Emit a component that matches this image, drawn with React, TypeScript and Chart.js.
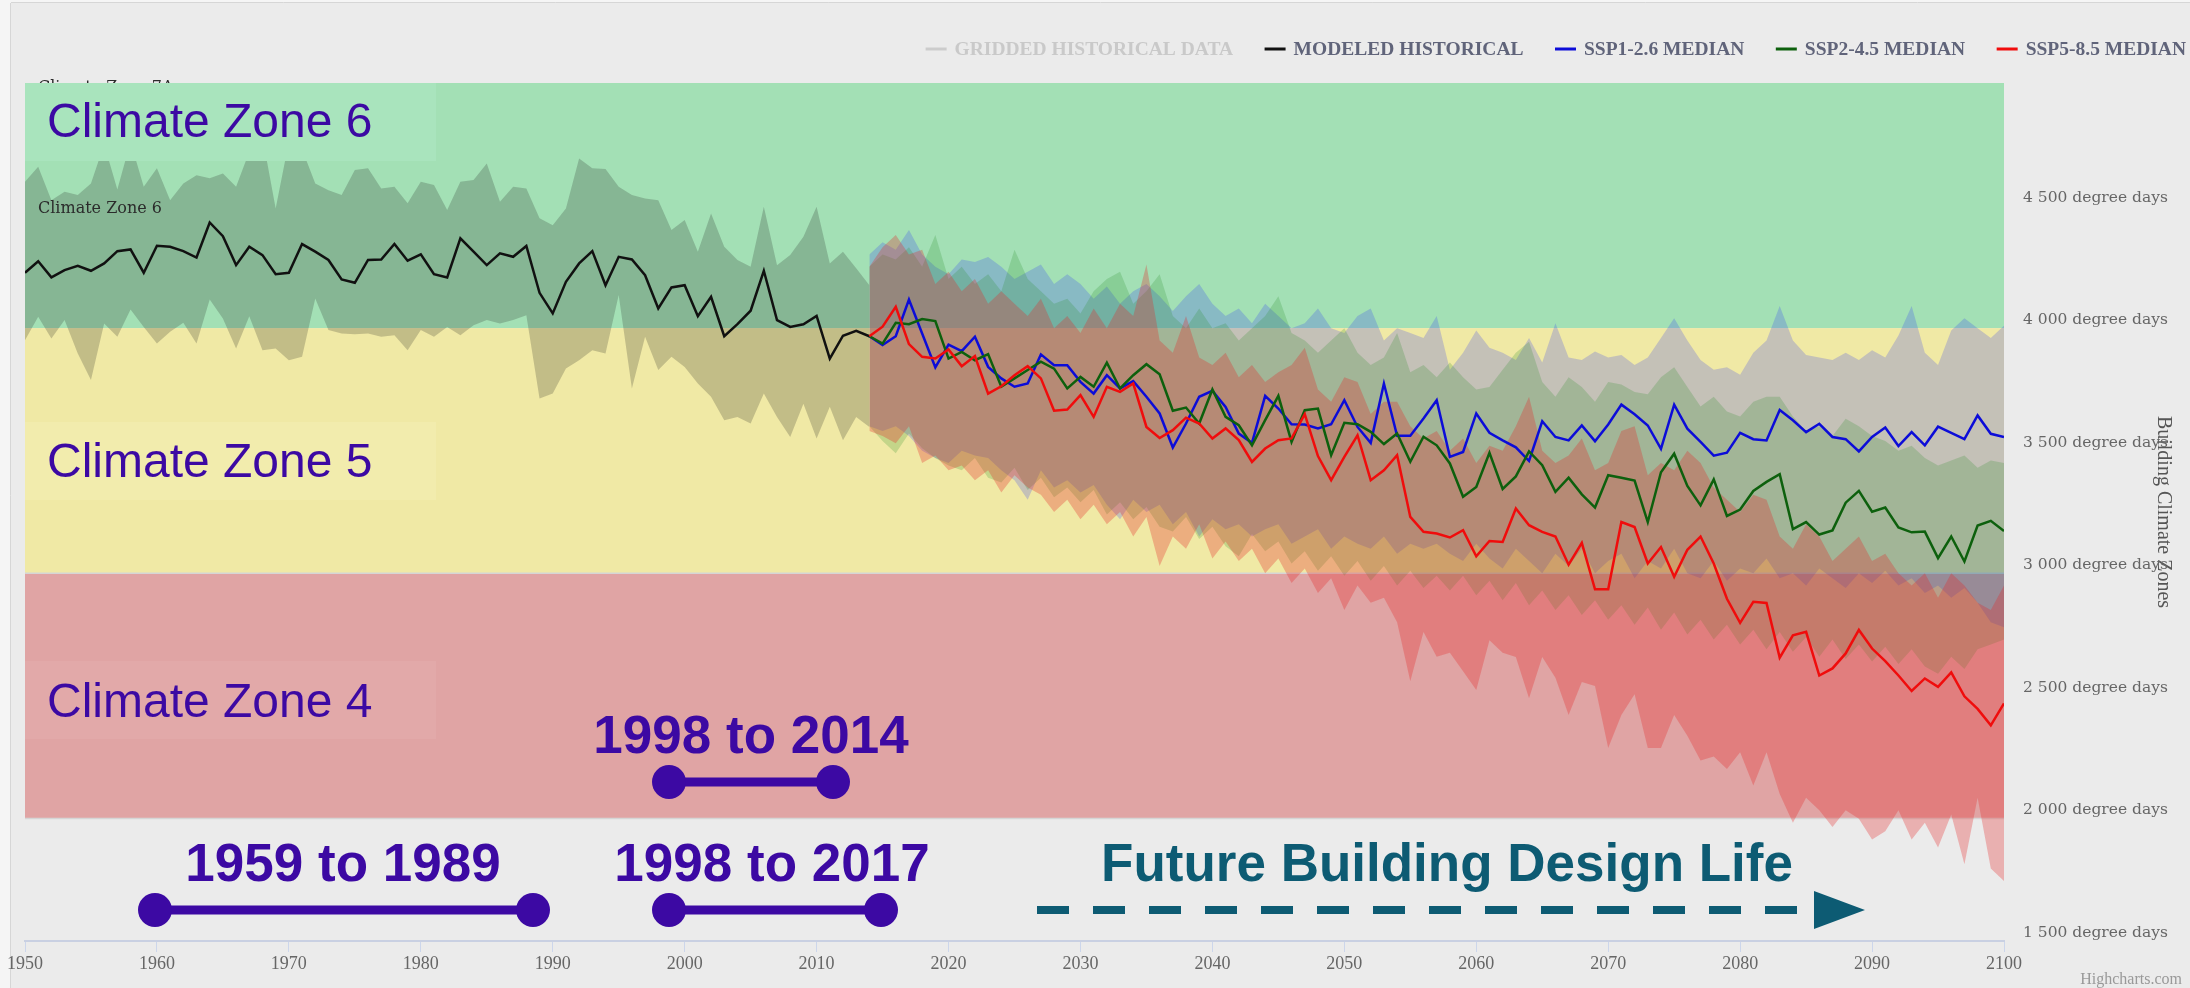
import React, { useEffect, useRef } from 'react';
import { Chart, registerables } from 'chart.js';

Chart.register(...registerables);

const WIDTH = 2190;
const HEIGHT = 988;

// ---------- data ----------
const histStart = 1950;
const futureStart = 2014;

const histMedian = [
  4226, 4273, 4207, 4237, 4254, 4234, 4264, 4314, 4321, 4226,
  4336, 4332, 4314, 4288, 4431, 4375, 4257, 4332, 4298, 4220,
  4226, 4343, 4312, 4278, 4199, 4185, 4278, 4280, 4343, 4275,
  4301, 4220, 4207, 4366, 4312, 4257, 4305, 4291, 4335, 4144,
  4060, 4189, 4264, 4314, 4175, 4291, 4280, 4216, 4080, 4166,
  4175, 4049, 4128, 3967, 4016, 4071, 4234, 4033, 4005, 4016,
  4050, 3876, 3969, 3989, 3967,
];
const histUpper = [
  4597, 4658, 4522, 4556, 4543, 4590, 4750, 4566, 4760, 4577,
  4652, 4522, 4590, 4624, 4611, 4631, 4577, 4720, 4780, 4488,
  4760, 4730, 4590, 4563, 4543, 4645, 4652, 4570, 4577, 4509,
  4597, 4584, 4482, 4597, 4604, 4672, 4516, 4577, 4570, 4448,
  4420, 4488, 4692, 4652, 4649, 4577, 4543, 4529, 4522, 4400,
  4441, 4312, 4468, 4332, 4278, 4250, 4495, 4257, 4298, 4373,
  4495, 4264, 4312, 4244, 4175,
];
const histLower = [
  3951, 4046, 3958, 4033, 3897, 3788, 4019, 3965, 4076, 4005,
  3937, 3985, 4022, 3937, 4117, 4039, 3917, 4049, 3910, 3917,
  3869, 3883, 4121, 3992, 3978, 3975, 3978, 3965, 3971, 3910,
  3992, 3965, 4005, 3971, 4012, 4033, 4019, 4033, 4053, 3713,
  3733, 3835, 3869, 3910, 3897, 4135, 3754, 3965, 3829, 3883,
  3842, 3774, 3720, 3624, 3638, 3611, 3733, 3638, 3556, 3692,
  3550, 3679, 3543, 3638, 3597,
];

const ssp1Median = [
  3967, 3931, 3967, 4117, 3978, 3840, 3933, 3906, 3965, 3842,
  3795, 3761, 3774, 3893, 3849, 3849, 3781, 3733, 3808, 3754,
  3784, 3720, 3652, 3513, 3611, 3720, 3744, 3679, 3570, 3532,
  3724, 3672, 3608, 3607, 3591, 3608, 3706, 3597, 3532, 3774,
  3561, 3561, 3631, 3706, 3475, 3495, 3652, 3573, 3542, 3514,
  3458, 3620, 3556, 3542, 3603, 3539, 3607, 3688, 3649, 3603,
  3508, 3688, 3590, 3536, 3480, 3492, 3573, 3547, 3542, 3666,
  3624, 3576, 3610, 3556, 3547, 3497, 3556, 3595, 3519, 3576,
  3522, 3598, 3573, 3547, 3644, 3569, 3556,
];
const ssp2Median = [
  3967, 3937, 4022, 4016, 4037, 4029, 3876, 3903, 3869, 3894,
  3761, 3795, 3829, 3863, 3835, 3754, 3801, 3761, 3859, 3754,
  3808, 3853, 3812, 3663, 3676, 3611, 3750, 3638, 3604, 3522,
  3625, 3724, 3536, 3665, 3672, 3482, 3614, 3608, 3577, 3527,
  3570, 3455, 3557, 3522, 3448, 3312, 3352, 3491, 3344, 3395,
  3497, 3441, 3332, 3390, 3322, 3268, 3400, 3390, 3378, 3209,
  3412, 3488, 3356, 3277, 3383, 3234, 3260, 3336, 3373, 3404,
  3180, 3209, 3158, 3175, 3288, 3336, 3251, 3268, 3187, 3167,
  3170, 3062, 3150, 3048, 3195, 3214, 3172,
];
const ssp5Median = [
  3967, 4006, 4087, 3935, 3883, 3876, 3913, 3845, 3886, 3733,
  3763, 3808, 3845, 3795, 3663, 3668, 3727, 3638, 3761, 3740,
  3774, 3597, 3552, 3584, 3635, 3611, 3550, 3591, 3543, 3454,
  3509, 3543, 3550, 3649, 3478, 3380, 3475, 3563, 3380, 3420,
  3482, 3230, 3169, 3162, 3146, 3176, 3069, 3132, 3128, 3264,
  3196, 3169, 3150, 3035, 3124, 2935, 2935, 3209, 3189, 3040,
  3107, 2986, 3096, 3150, 3040, 2896, 2798, 2884, 2879, 2656,
  2747, 2761, 2583, 2612, 2673, 2769, 2693, 2642, 2583, 2520,
  2571, 2537, 2596, 2498, 2447, 2380, 2469,
];

const ssp1Upper = [
  4300, 4350, 4320, 4400, 4300, 4250, 4220, 4280, 4270, 4290,
  4250, 4200, 4230, 4260, 4180, 4220, 4180, 4120, 4170, 4100,
  4150, 4180, 4130, 4070, 4130, 4180, 4100, 4050, 4080, 4020,
  4100, 4050, 4000, 4020, 4080, 4000, 3980, 4050, 4080, 3950,
  4000, 3980, 3960, 4050, 3830, 3900, 3990, 3920, 3900, 3870,
  3960, 3860, 4020, 3880, 3870, 3905, 3880, 3890, 3850, 3880,
  3960, 4040, 3950, 3870, 3830, 3840, 3810, 3900, 3950, 4090,
  3950, 3890, 3880, 3870, 3900, 3870, 3910, 3880, 3970, 4090,
  3900, 3850, 3990, 4040, 4000, 3960, 4010,
];
const ssp1Lower = [
  3600, 3580, 3600, 3560, 3500, 3470, 3450, 3500, 3480, 3470,
  3420, 3380, 3300, 3420, 3350, 3380, 3330, 3360, 3280, 3220,
  3300, 3250, 3280, 3200, 3250, 3150, 3220, 3180, 3200, 3150,
  3180, 3200, 3120, 3150, 3180, 3100, 3150, 3120, 3100, 3150,
  3080, 3120, 3100, 3120, 3080, 3050, 3120, 3060, 3020, 3100,
  3050, 3000, 3080, 3030, 3100, 3000, 3050, 3080, 2980, 3050,
  3020, 3100, 3000, 2980, 3050, 2970, 3020, 3000, 3060, 2980,
  3000, 2950, 3020, 2980, 2940, 3000, 2960, 3010, 2950, 2980,
  2920, 2950, 2900, 2940, 2880, 2800, 2780,
];
const ssp2Upper = [
  4250, 4300, 4280, 4330, 4250, 4380, 4200, 4250, 4180, 4220,
  4150, 4320, 4200, 4150, 4100, 4120, 4060, 4150, 4200, 4230,
  4100, 4150, 4220, 4050, 4000, 4080, 4000, 4020, 3950, 4000,
  4050, 4130, 3980, 3950, 3900, 3950, 4000, 3900, 3850, 3880,
  3980, 3820, 3850, 3800, 3860, 3800, 3750, 3760, 3830, 3900,
  3945, 3780, 3720, 3800, 3760, 3700, 3780, 3770, 3740, 3730,
  3800, 3840, 3760, 3680, 3720, 3660, 3640, 3700, 3720, 3720,
  3640, 3580, 3600, 3560, 3630, 3600, 3560, 3540, 3500, 3520,
  3470, 3440, 3460, 3480, 3430, 3460, 3450,
];
const ssp2Lower = [
  3600, 3540, 3490, 3570, 3510, 3470, 3440, 3420, 3470, 3390,
  3370, 3430, 3340, 3390, 3310, 3350, 3290, 3340, 3240, 3290,
  3220, 3270, 3190, 3170, 3230, 3140, 3190, 3110, 3070, 3160,
  3090, 3130, 3040, 3090, 3010, 3070, 2990, 3050, 2970, 3030,
  2950, 3010, 2940, 2990, 2930, 2990, 2910, 2970, 2890, 2960,
  2870, 2930, 2850, 2910, 2830, 2890, 2810, 2870, 2790, 2860,
  2770, 2840, 2750, 2810, 2730, 2790, 2710, 2770, 2690, 2760,
  2680, 2740, 2660, 2730, 2650, 2710, 2640, 2700, 2630, 2690,
  2620, 2590, 2660, 2610, 2690, 2710, 2730,
];
const ssp5Upper = [
  4250, 4330, 4380, 4300, 4320, 4180, 4230, 4150, 4200, 4100,
  4150, 4100, 4050, 4120, 4000, 4050, 3980, 4080, 4000, 4100,
  4050, 4260, 3950, 3900, 4050, 3880, 3850, 3900, 3800, 3850,
  3780, 3820, 3850, 3920, 3750, 3700, 3800, 3780, 3650, 3700,
  3700, 3600, 3550, 3580, 3500, 3550, 3450, 3520, 3500, 3600,
  3720, 3500, 3450, 3480, 3550, 3420, 3450, 3580, 3600, 3400,
  3450, 3420, 3500, 3450, 3350, 3300, 3250, 3320, 3300, 3150,
  3100, 3200, 3150, 3050, 3100, 3150, 3050, 3080, 3000, 2950,
  3000, 2900, 3000, 2950, 2880, 2850, 2950,
];
const ssp5Lower = [
  3580, 3560, 3530, 3600, 3450, 3480, 3420, 3440, 3380, 3420,
  3330, 3400, 3350, 3320, 3250, 3300, 3220, 3280, 3200, 3250,
  3150, 3230, 3030, 3150, 3100, 3200, 3060, 3130, 3050, 3100,
  3000, 3060, 2960, 3020, 2920, 2980, 2850, 2950, 2880, 2900,
  2800, 2560, 2760, 2660, 2676, 2600, 2524, 2727, 2676, 2659,
  2490, 2659, 2574, 2422, 2557, 2540, 2287, 2422, 2507, 2287,
  2287, 2422, 2337, 2236, 2253, 2202, 2270, 2134, 2270, 2100,
  1982, 2084, 2033, 1965, 2033, 1999, 1914, 1948, 2033, 1914,
  1982, 1881, 2016, 1813, 2084, 1796, 1745,
];

// climate zone bands (degree days)
const zoneNames = ['Climate Zone 6', 'Climate Zone 5', 'Climate Zone 4'];
const zoneFrom = [4000, 3000, 2000];
const zoneTo = [5000, 4000, 3000];
const topZoneName = 'Climate Zone 7A';

// annotation periods
const periodLabels = ['1959 to 1989', '1998 to 2014', '1998 to 2017'];
const futureLabel = 'Future Building Design Life';

const yMin = 1500;
const yMax = 5000;
const yStep = 500;
const xMin = 1950;
const xMax = 2100;
const xStep = 10;

// ---------- helpers ----------
const histYears = histMedian.map((_, i) => histStart + i);
const futureYears = ssp1Median.map((_, i) => futureStart + i);
const pts = (xs: number[], ys: number[]) => ys.map((y, i) => ({ x: xs[i], y }));

const lineDs = (label: string, xs: number[], ys: number[], color: string, order: number, rank: number) => ({
  type: 'line',
  label,
  data: pts(xs, ys),
  borderColor: color,
  backgroundColor: color,
  borderWidth: 2.5,
  pointRadius: 0,
  tension: 0,
  fill: false,
  order,
  legendRank: rank,
});

const rangeDs = (label: string, xs: number[], lo: number[], hi: number[], color: string, order: number) => [
  {
    type: 'line',
    label: label + ' low',
    data: pts(xs, lo),
    borderWidth: 0,
    borderColor: 'rgba(0,0,0,0)',
    pointRadius: 0,
    tension: 0,
    fill: false,
    order,
  },
  {
    type: 'line',
    label: label + ' high',
    data: pts(xs, hi),
    borderWidth: 0,
    borderColor: 'rgba(0,0,0,0)',
    backgroundColor: color,
    pointRadius: 0,
    tension: 0,
    fill: '-1',
    order,
  },
];

const datasets: any[] = [
  lineDs('SSP5-8.5 MEDIAN', futureYears, ssp5Median, '#f00c0c', 1, 4),
  lineDs('SSP2-4.5 MEDIAN', futureYears, ssp2Median, '#0d600d', 2, 3),
  lineDs('SSP1-2.6 MEDIAN', futureYears, ssp1Median, '#0c0cd8', 3, 2),
  lineDs('MODELED HISTORICAL', histYears, histMedian, '#111111', 4, 1),
  { ...lineDs('GRIDDED HISTORICAL DATA', [], [], '#cccccc', 5, 0), hidden: true },
  ...rangeDs('SSP5-8.5', futureYears, ssp5Lower, ssp5Upper, 'rgba(230,40,40,0.30)', 10),
  ...rangeDs('SSP2-4.5', futureYears, ssp2Lower, ssp2Upper, 'rgba(40,140,40,0.22)', 20),
  ...rangeDs('SSP1-2.6', futureYears, ssp1Lower, ssp1Upper, 'rgba(40,50,250,0.22)', 30),
  ...rangeDs('Historical', histYears, histLower, histUpper, 'rgba(30,30,30,0.22)', 40),
];

const fmtDD = (v: number) => {
  const th = Math.floor(v / 1000);
  const rest = String(v % 1000).padStart(3, '0');
  return `${th} ${rest} degree days`;
};

const serif = '"Liberation Serif", serif';

// ---------- plugins ----------
const zoneColors = ['#a3e0b5', '#f0e9a5', '#e0a4a4'];
const boxColors = ['#a9e4bd', '#f2ecad', '#e2a9a9'];

const backgroundPlugin = {
  id: 'pageBg',
  beforeDraw(chart: any) {
    const { ctx } = chart;
    ctx.save();
    ctx.fillStyle = '#f5f5f5';
    ctx.fillRect(0, 0, WIDTH, HEIGHT);
    ctx.fillStyle = '#ebebeb';
    ctx.fillRect(11, 3, WIDTH - 11, HEIGHT - 3);
    ctx.strokeStyle = '#d6d6d6';
    ctx.lineWidth = 1;
    ctx.beginPath();
    ctx.moveTo(10.5, 3);
    ctx.lineTo(10.5, HEIGHT);
    ctx.moveTo(11, 2.5);
    ctx.lineTo(WIDTH, 2.5);
    ctx.stroke();
    ctx.restore();
  },
};

const bandsPlugin = {
  id: 'zoneBands',
  beforeDatasetsDraw(chart: any) {
    const { ctx, chartArea, scales } = chart;
    const y = scales.y;
    ctx.save();
    zoneFrom.forEach((f, i) => {
      const y1 = y.getPixelForValue(zoneTo[i]);
      const y2 = y.getPixelForValue(f);
      ctx.fillStyle = zoneColors[i];
      ctx.fillRect(chartArea.left, y1, chartArea.right - chartArea.left, y2 - y1);
    });
    ctx.strokeStyle = '#d5d5d5';
    ctx.lineWidth = 1.5;
    [3000, 2000].forEach((v) => {
      const py = y.getPixelForValue(v);
      ctx.beginPath();
      ctx.moveTo(chartArea.left, py);
      ctx.lineTo(chartArea.right, py);
      ctx.stroke();
    });
    ctx.restore();
  },
  afterDatasetsDraw(chart: any) {
    const { ctx, chartArea, scales } = chart;
    const y = scales.y;
    ctx.save();
    ctx.font = '16px "DejaVu Serif"';
    ctx.fillStyle = '#2b2b2b';
    ctx.textAlign = 'left';
    ctx.textBaseline = 'middle';
    zoneFrom.forEach((f, i) => {
      const mid = (y.getPixelForValue(f) + y.getPixelForValue(zoneTo[i])) / 2;
      ctx.fillText(zoneNames[i], chartArea.left + 13, mid + 3);
    });
    ctx.textBaseline = 'alphabetic';
    ctx.fillText(topZoneName, chartArea.left + 13, chartArea.top + 9);
    ctx.restore();
  },
};

const overlayPlugin = {
  id: 'overlay',
  afterDraw(chart: any) {
    const { ctx, chartArea } = chart;
    const L = chartArea.left;
    ctx.save();

    // zone name boxes
    const boxTops = [83, 422, 661];
    const baselines = [137, 477, 717];
    boxTops.forEach((t, i) => {
      ctx.fillStyle = boxColors[i];
      ctx.fillRect(L, t, 411, 78);
      ctx.fillStyle = '#3c09a3';
      ctx.font = '48px "Liberation Sans", Arial, sans-serif';
      ctx.textAlign = 'left';
      ctx.textBaseline = 'alphabetic';
      ctx.fillText(zoneNames[i], 47, baselines[i]);
    });

    // period annotations
    const purple = '#3c09a3';
    const drawPeriod = (text: string, cx: number, base: number, x1: number, x2: number, ly: number) => {
      ctx.fillStyle = purple;
      ctx.font = 'bold 53px "Liberation Sans", Arial, sans-serif';
      ctx.textAlign = 'center';
      ctx.textBaseline = 'alphabetic';
      ctx.fillText(text, cx, base);
      ctx.strokeStyle = purple;
      ctx.lineWidth = 9;
      ctx.beginPath();
      ctx.moveTo(x1, ly);
      ctx.lineTo(x2, ly);
      ctx.stroke();
      [x1, x2].forEach((x) => {
        ctx.beginPath();
        ctx.arc(x, ly, 17, 0, Math.PI * 2);
        ctx.fill();
      });
    };
    drawPeriod(periodLabels[0], 343, 881, 155, 533, 910);
    drawPeriod(periodLabels[1], 751, 753, 669, 833, 782);
    drawPeriod(periodLabels[2], 772, 881, 669, 881, 910);

    // future design life arrow
    const teal = '#0d5b73';
    ctx.fillStyle = teal;
    ctx.font = 'bold 53px "Liberation Sans", Arial, sans-serif';
    ctx.textAlign = 'center';
    ctx.fillText(futureLabel, 1447, 881);
    ctx.strokeStyle = teal;
    ctx.lineWidth = 8;
    ctx.setLineDash([32, 24]);
    ctx.beginPath();
    ctx.moveTo(1037, 910);
    ctx.lineTo(1797, 910);
    ctx.stroke();
    ctx.setLineDash([]);
    ctx.beginPath();
    ctx.moveTo(1814, 891);
    ctx.lineTo(1865, 910);
    ctx.lineTo(1814, 929);
    ctx.closePath();
    ctx.fill();

    // legend
    const items = chart.data.datasets
      .filter((d: any) => d.legendRank !== undefined)
      .sort((a: any, b: any) => a.legendRank - b.legendRank);
    ctx.font = 'bold 19.5px ' + serif;
    ctx.textAlign = 'left';
    ctx.textBaseline = 'alphabetic';
    let x = 2186;
    for (let i = items.length - 1; i >= 0; i--) {
      const it = items[i];
      const tw = ctx.measureText(it.label).width;
      const tx = x - tw;
      const sx = tx - 8 - 21;
      const hidden = !!it.hidden;
      ctx.fillStyle = hidden ? '#c9c9c9' : '#60647a';
      ctx.fillText(it.label, tx, 55);
      ctx.strokeStyle = hidden ? '#cccccc' : it.borderColor;
      ctx.lineWidth = 3;
      ctx.beginPath();
      ctx.moveTo(sx, 49);
      ctx.lineTo(sx + 21, 49);
      ctx.stroke();
      x = sx - 31.5;
    }

    // credits
    ctx.font = '16px ' + serif;
    ctx.fillStyle = '#999999';
    ctx.textAlign = 'right';
    ctx.fillText('Highcharts.com', 2182, 984);
    ctx.restore();
  },
};

// ---------- component ----------
export default function App() {
  const ref = useRef<HTMLCanvasElement>(null);

  useEffect(() => {
    document.body.style.margin = '0';
    const canvas = ref.current;
    if (!canvas) return;
    const chart = new Chart(canvas, {
      type: 'line',
      data: { datasets },
      options: {
        animation: false,
        responsive: false,
        devicePixelRatio: 1,
        events: [],
        layout: { padding: { top: 83, left: 25, right: 0, bottom: 0 } },
        plugins: {
          legend: { display: false },
          tooltip: { enabled: false },
          title: { display: false },
        },
        scales: {
          x: {
            type: 'linear',
            position: 'bottom',
            min: xMin,
            max: xMax,
            offset: false,
            afterFit: (s: any) => {
              s.height = 47;
            },
            grid: {
              display: true,
              drawOnChartArea: false,
              drawTicks: true,
              tickLength: 11,
              color: '#ccd6eb',
              lineWidth: 1,
            },
            border: { display: true, color: '#c9d0e2', width: 2 },
            ticks: {
              stepSize: xStep,
              autoSkip: false,
              maxRotation: 0,
              padding: 1,
              color: '#666666',
              font: { family: serif, size: 18 },
              callback: (v: any) => String(v),
            },
          },
          y: {
            type: 'linear',
            position: 'right',
            min: yMin,
            max: yMax,
            afterFit: (s: any) => {
              s.width = 186;
            },
            grid: { display: false, drawTicks: false },
            border: { display: false },
            ticks: {
              stepSize: yStep,
              padding: 19,
              labelOffset: -8,
              color: '#666666',
              font: { family: '"DejaVu Serif", serif', size: 15.5 },
              callback: (v: any) => (v >= yMax ? '' : fmtDD(Number(v))),
            },
            title: {
              display: true,
              text: 'Building Climate Zones',
              color: '#555555',
              font: { family: serif, size: 20 },
              padding: { top: 15, bottom: 0 },
            },
          },
        },
      } as any,
      plugins: [backgroundPlugin, bandsPlugin, overlayPlugin],
    } as any);
    return () => chart.destroy();
  }, []);

  return (
    <div style={{ position: 'absolute', left: 0, top: 0, width: WIDTH, height: HEIGHT }}>
      <canvas ref={ref} width={WIDTH} height={HEIGHT} style={{ display: 'block', width: WIDTH, height: HEIGHT }} />
    </div>
  );
}
